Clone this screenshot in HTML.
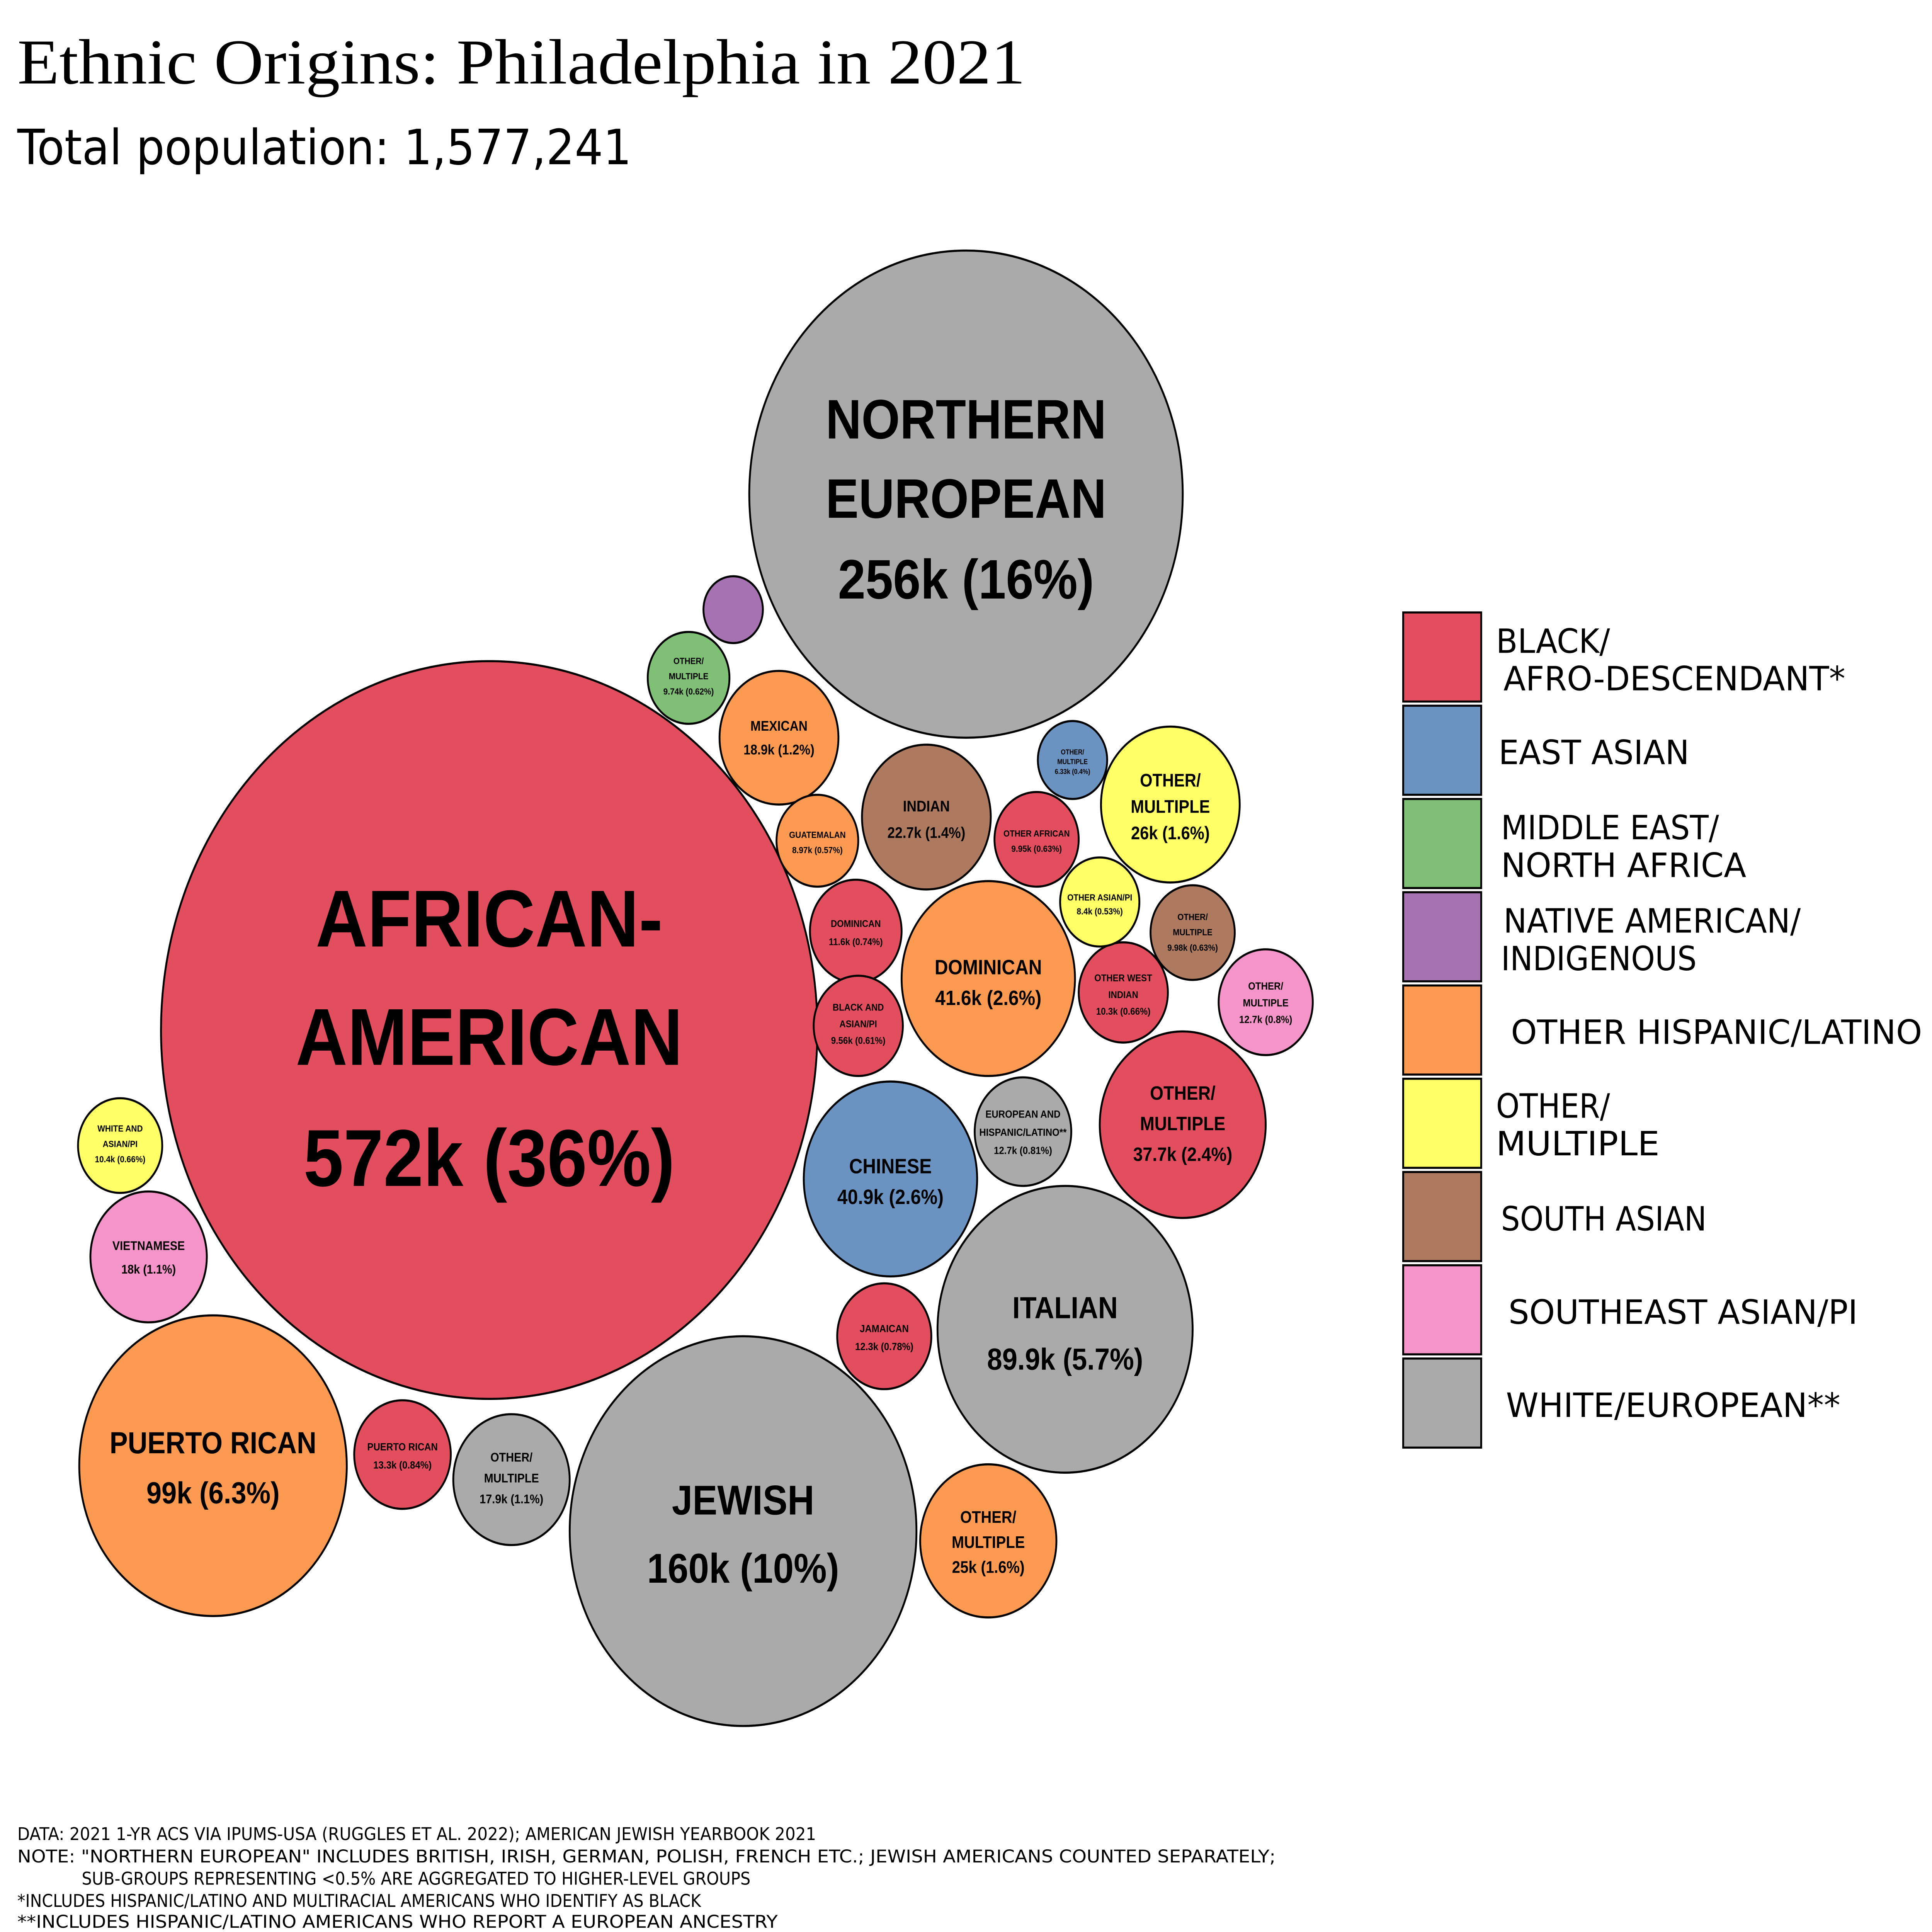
<!DOCTYPE html>
<html><head><meta charset="utf-8"><style>
html,body{margin:0;padding:0;background:#fff;width:100%;height:100%;overflow:hidden;}
svg{display:block;position:fixed;left:0;top:0;width:100vw;height:100vh;}
.c{stroke:#000;stroke-width:1.5;}
.t{font-family:"Liberation Sans",Arial,sans-serif;font-weight:bold;text-anchor:middle;fill:#000;}
.l{font-family:"DejaVu Sans","Liberation Sans",sans-serif;font-size:24px;fill:#000;}
.f{font-family:"DejaVu Sans","Liberation Sans",sans-serif;font-size:12.5px;fill:#000;}
</style></head><body>
<svg viewBox="0 0 1560 1388" preserveAspectRatio="none" xmlns="http://www.w3.org/2000/svg">
<rect width="1560" height="1388" fill="#fff"/>
<text x="14" y="60" font-family="'Liberation Serif',serif" font-size="46" textLength="814" lengthAdjust="spacingAndGlyphs">Ethnic Origins: Philadelphia in 2021</text>
<text x="14" y="118" font-family="'DejaVu Sans','Liberation Sans',sans-serif" font-size="35" textLength="496" lengthAdjust="spacingAndGlyphs">Total population: 1,577,241</text>

<g class="c">
<circle cx="395" cy="740" r="265" fill="#e34e5e"/>
<circle cx="780" cy="355" r="175" fill="#aaaaaa"/>
<circle cx="600" cy="1100" r="140" fill="#aaaaaa"/>
<circle cx="860" cy="955" r="103" fill="#aaaaaa"/>
<circle cx="172" cy="1053" r="108" fill="#fd9a52"/>
<circle cx="798" cy="703" r="70" fill="#fd9a52"/>
<circle cx="719" cy="847" r="70" fill="#6a93c2"/>
<circle cx="955" cy="808" r="67" fill="#e34e5e"/>
<circle cx="945" cy="578" r="56" fill="#ffff66"/>
<circle cx="798" cy="1107" r="55" fill="#fd9a52"/>
<circle cx="748" cy="587" r="52" fill="#ad7a60"/>
<circle cx="629" cy="530" r="48" fill="#fd9a52"/>
<circle cx="120" cy="903" r="47" fill="#f494c9"/>
<circle cx="413" cy="1063" r="47" fill="#aaaaaa"/>
<circle cx="714" cy="960" r="38" fill="#e34e5e"/>
<circle cx="325" cy="1045" r="39" fill="#e34e5e"/>
<circle cx="826" cy="813" r="39" fill="#aaaaaa"/>
<circle cx="1022" cy="720" r="38" fill="#f494c9"/>
<circle cx="691" cy="669" r="37" fill="#e34e5e"/>
<circle cx="693" cy="737" r="36" fill="#e34e5e"/>
<circle cx="907" cy="713" r="36" fill="#e34e5e"/>
<circle cx="97" cy="823" r="34" fill="#ffff66"/>
<circle cx="837" cy="603" r="34" fill="#e34e5e"/>
<circle cx="963" cy="670" r="34" fill="#ad7a60"/>
<circle cx="556" cy="487" r="33" fill="#7fbf76"/>
<circle cx="660" cy="604" r="33" fill="#fd9a52"/>
<circle cx="888" cy="648" r="32" fill="#ffff66"/>
<circle cx="866" cy="546" r="28" fill="#6a93c2"/>
<circle cx="592" cy="438" r="24" fill="#a672b2"/>
</g>

<g class="t">
<text x="395" y="680" font-size="58">AFRICAN-</text>
<text x="395" y="765" font-size="58">AMERICAN</text>
<text x="395" y="852" font-size="58">572k (36%)</text>
<text x="780" y="315" font-size="40">NORTHERN</text>
<text x="780" y="372" font-size="40">EUROPEAN</text>
<text x="780" y="430" font-size="40">256k (16%)</text>
<text x="600" y="1088" font-size="30">JEWISH</text>
<text x="600" y="1137" font-size="30">160k (10%)</text>
<text x="860" y="947" font-size="22">ITALIAN</text>
<text x="860" y="984" font-size="22">89.9k (5.7%)</text>
<text x="172" y="1044" font-size="22">PUERTO RICAN</text>
<text x="172" y="1080" font-size="22">99k (6.3%)</text>
<text x="798" y="700" font-size="15">DOMINICAN</text>
<text x="798" y="722" font-size="15">41.6k (2.6%)</text>
<text x="719" y="843" font-size="15">CHINESE</text>
<text x="719" y="865" font-size="15">40.9k (2.6%)</text>
<text x="955" y="790" font-size="14">OTHER/</text>
<text x="955" y="812" font-size="14">MULTIPLE</text>
<text x="955" y="834" font-size="14">37.7k (2.4%)</text>
<text x="945" y="565" font-size="13">OTHER/</text>
<text x="945" y="584" font-size="13">MULTIPLE</text>
<text x="945" y="603" font-size="13">26k (1.6%)</text>
<text x="798" y="1094" font-size="12">OTHER/</text>
<text x="798" y="1112" font-size="12">MULTIPLE</text>
<text x="798" y="1130" font-size="12">25k (1.6%)</text>
<text x="748" y="583" font-size="11">INDIAN</text>
<text x="748" y="602" font-size="11">22.7k (1.4%)</text>
<text x="629" y="525" font-size="10">MEXICAN</text>
<text x="629" y="542" font-size="10">18.9k (1.2%)</text>
<text x="120" y="898" font-size="9">VIETNAMESE</text>
<text x="120" y="915" font-size="9">18k (1.1%)</text>
<text x="413" y="1050" font-size="9">OTHER/</text>
<text x="413" y="1065" font-size="9">MULTIPLE</text>
<text x="413" y="1080" font-size="9">17.9k (1.1%)</text>
<text x="714" y="957" font-size="7.5">JAMAICAN</text>
<text x="714" y="970" font-size="7.5">12.3k (0.78%)</text>
<text x="325" y="1042" font-size="7.5">PUERTO RICAN</text>
<text x="325" y="1055" font-size="7.5">13.3k (0.84%)</text>
<text x="826" y="803" font-size="7.5">EUROPEAN AND</text>
<text x="826" y="816" font-size="7.5">HISPANIC/LATINO**</text>
<text x="826" y="829" font-size="7.5">12.7k (0.81%)</text>
<text x="1022" y="711" font-size="7.5">OTHER/</text>
<text x="1022" y="723" font-size="7.5">MULTIPLE</text>
<text x="1022" y="735" font-size="7.5">12.7k (0.8%)</text>
<text x="691" y="666" font-size="7">DOMINICAN</text>
<text x="691" y="679" font-size="7">11.6k (0.74%)</text>
<text x="693" y="726" font-size="7">BLACK AND</text>
<text x="693" y="738" font-size="7">ASIAN/PI</text>
<text x="693" y="750" font-size="7">9.56k (0.61%)</text>
<text x="907" y="705" font-size="7">OTHER WEST</text>
<text x="907" y="717" font-size="7">INDIAN</text>
<text x="907" y="729" font-size="7">10.3k (0.66%)</text>
<text x="97" y="813" font-size="6.5">WHITE AND</text>
<text x="97" y="824" font-size="6.5">ASIAN/PI</text>
<text x="97" y="835" font-size="6.5">10.4k (0.66%)</text>
<text x="837" y="601" font-size="6.5">OTHER AFRICAN</text>
<text x="837" y="612" font-size="6.5">9.95k (0.63%)</text>
<text x="963" y="661" font-size="6.5">OTHER/</text>
<text x="963" y="672" font-size="6.5">MULTIPLE</text>
<text x="963" y="683" font-size="6.5">9.98k (0.63%)</text>
<text x="556" y="477" font-size="6.5">OTHER/</text>
<text x="556" y="488" font-size="6.5">MULTIPLE</text>
<text x="556" y="499" font-size="6.5">9.74k (0.62%)</text>
<text x="660" y="602" font-size="6.5">GUATEMALAN</text>
<text x="660" y="613" font-size="6.5">8.97k (0.57%)</text>
<text x="888" y="647" font-size="6.5">OTHER ASIAN/PI</text>
<text x="888" y="657" font-size="6.5">8.4k (0.53%)</text>
<text x="866" y="542" font-size="5">OTHER/</text>
<text x="866" y="549" font-size="5">MULTIPLE</text>
<text x="866" y="556" font-size="5">6.33k (0.4%)</text>
</g>

<g class="c">
<rect x="1133" y="440" width="63" height="64" fill="#e34e5e"/>
<rect x="1133" y="507" width="63" height="64" fill="#6a93c2"/>
<rect x="1133" y="574" width="63" height="64" fill="#7fbf76"/>
<rect x="1133" y="641" width="63" height="64" fill="#a672b2"/>
<rect x="1133" y="708" width="63" height="64" fill="#fd9a52"/>
<rect x="1133" y="775" width="63" height="64" fill="#ffff66"/>
<rect x="1133" y="842" width="63" height="64" fill="#ad7a60"/>
<rect x="1133" y="909" width="63" height="64" fill="#f494c9"/>
<rect x="1133" y="976" width="63" height="64" fill="#aaaaaa"/>
</g>
<g class="l">
<text x="1208" y="469" textLength="92" lengthAdjust="spacingAndGlyphs">BLACK/</text>
<text x="1214" y="496" textLength="276" lengthAdjust="spacingAndGlyphs">AFRO-DESCENDANT*</text>
<text x="1210" y="549" textLength="154" lengthAdjust="spacingAndGlyphs">EAST ASIAN</text>
<text x="1212" y="603" textLength="176" lengthAdjust="spacingAndGlyphs">MIDDLE EAST/</text>
<text x="1212" y="630" textLength="198" lengthAdjust="spacingAndGlyphs">NORTH AFRICA</text>
<text x="1214" y="670" textLength="240" lengthAdjust="spacingAndGlyphs">NATIVE AMERICAN/</text>
<text x="1212" y="697" textLength="158" lengthAdjust="spacingAndGlyphs">INDIGENOUS</text>
<text x="1220" y="750" textLength="332" lengthAdjust="spacingAndGlyphs">OTHER HISPANIC/LATINO</text>
<text x="1208" y="803" textLength="92" lengthAdjust="spacingAndGlyphs">OTHER/</text>
<text x="1208" y="830" textLength="132" lengthAdjust="spacingAndGlyphs">MULTIPLE</text>
<text x="1212" y="884" textLength="166" lengthAdjust="spacingAndGlyphs">SOUTH ASIAN</text>
<text x="1218" y="951" textLength="282" lengthAdjust="spacingAndGlyphs">SOUTHEAST ASIAN/PI</text>
<text x="1216" y="1018" textLength="270" lengthAdjust="spacingAndGlyphs">WHITE/EUROPEAN**</text>
</g>

<g class="f">
<text x="14" y="1322" textLength="645" lengthAdjust="spacingAndGlyphs">DATA: 2021 1-YR ACS VIA IPUMS-USA (RUGGLES ET AL. 2022); AMERICAN JEWISH YEARBOOK 2021</text>
<text x="14" y="1338" textLength="1016" lengthAdjust="spacingAndGlyphs">NOTE: "NORTHERN EUROPEAN" INCLUDES BRITISH, IRISH, GERMAN, POLISH, FRENCH ETC.; JEWISH AMERICANS COUNTED SEPARATELY;</text>
<text x="66" y="1354" textLength="540" lengthAdjust="spacingAndGlyphs">SUB-GROUPS REPRESENTING &lt;0.5% ARE AGGREGATED TO HIGHER-LEVEL GROUPS</text>
<text x="14" y="1370" textLength="552" lengthAdjust="spacingAndGlyphs">*INCLUDES HISPANIC/LATINO AND MULTIRACIAL AMERICANS WHO IDENTIFY AS BLACK</text>
<text x="14" y="1385" textLength="614" lengthAdjust="spacingAndGlyphs">**INCLUDES HISPANIC/LATINO AMERICANS WHO REPORT A EUROPEAN ANCESTRY</text>
</g>
</svg>
</body></html>
